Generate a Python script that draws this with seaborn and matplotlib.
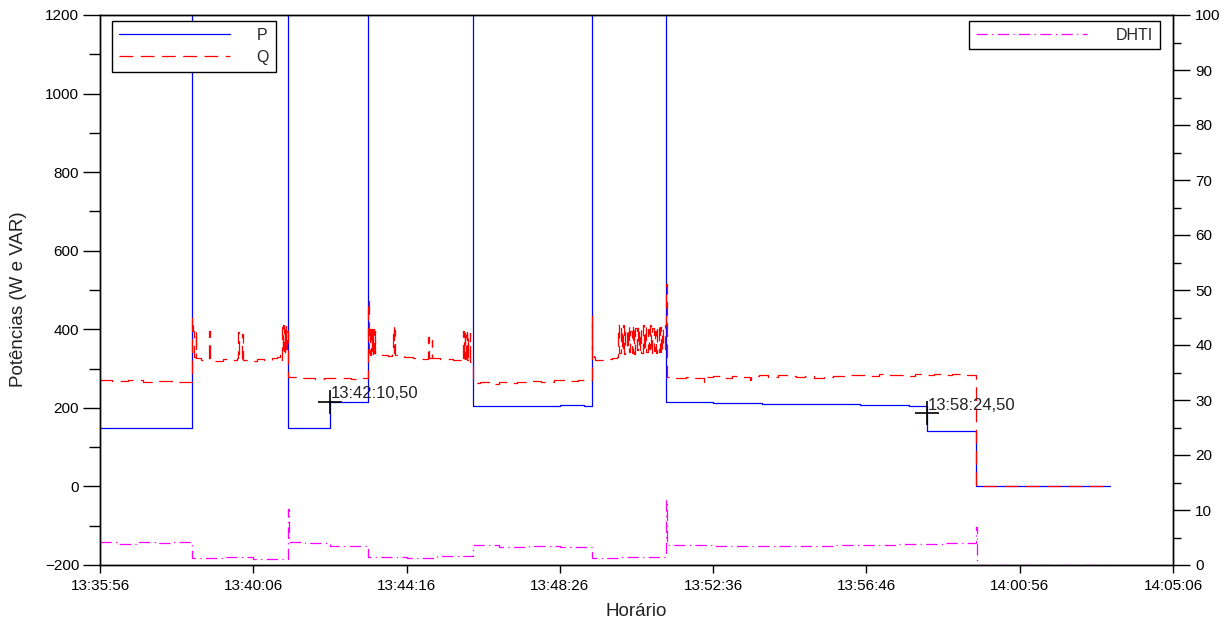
import matplotlib
matplotlib.use("Agg")
import matplotlib.pyplot as plt
import seaborn as sns
import pandas as pd
from matplotlib.ticker import MultipleLocator

# ---------------- data (seconds from 13:35:56) ----------------
tick_seconds = [0, 250, 500, 750, 1000, 1250, 1500, 1750]
tick_labels = ["13:35:56", "13:40:06", "13:44:16", "13:48:26",
               "13:52:36", "13:56:46", "14:00:56", "14:05:06"]

p_time = [0, 150, 306.6, 374.5, 437, 608, 620, 650, 700, 750, 790, 802,
          923, 960, 1000, 1040, 1080, 1120, 1160, 1200, 1240, 1280, 1320,
          1348.5, 1400, 1429, 1647]
p_value = [148, 1500, 148, 214, 1500, 204, 206, 205, 206, 207, 205, 1500,
           216, 214, 213, 212, 211, 210, 210, 209, 208, 207, 206,
           140, 141, 0, 0]

q_time = [0, 20, 45, 70, 95, 120, 140,
          150, 151, 153, 156, 157, 165, 175, 177, 178, 179, 188, 200, 212, 224,
          225, 226, 231, 232, 233, 245, 256, 268, 280, 289, 294, 296,
          297, 298, 299, 300, 301, 302, 303, 304, 305, 306,
          306.6, 320, 335, 350, 365, 380, 395, 410, 425,
          437, 438, 439, 440, 441, 442, 443, 444, 445, 446, 447, 448, 449,
          460, 470, 477, 478, 479, 480, 481, 495, 510, 525, 535, 536, 541, 542,
          555, 575, 588,
          592, 593, 594, 595, 596, 597, 598, 599, 600, 601, 603, 604, 606,
          608, 620, 635, 650, 665, 680, 700, 720, 740, 760, 780, 795,
          802, 803, 805, 808, 815, 825, 835, 843,
          845, 847, 849, 851, 853, 855, 857, 859, 861, 863, 865, 867, 869,
          871, 873, 875, 877, 879, 881, 883, 885, 887, 889, 891, 893, 895,
          897, 899, 901, 903, 905, 907, 909, 911, 913, 915, 917, 919, 921,
          923, 924, 940, 955, 970, 985, 986, 1000, 1015, 1030, 1045, 1060,
          1061, 1075, 1090, 1105, 1120, 1135, 1150, 1165, 1180, 1195, 1210,
          1225, 1240, 1255, 1270, 1285, 1300, 1315, 1330, 1345, 1360, 1375,
          1390, 1405, 1420, 1429, 1647]
q_value = [270, 268, 270, 267, 269, 266, 265,
           430, 395, 330, 398, 328, 322, 325, 385, 395, 328, 320, 324, 322, 326,
           392, 324, 325, 388, 323, 320, 324, 322, 326, 330, 338, 322,
           405, 340, 410, 345, 400, 338, 408, 350, 395, 342,
           278, 275, 277, 273, 276, 275, 277, 274, 276,
           475, 405, 340, 410, 335, 400, 345, 408, 338, 402, 340, 395, 336,
           334, 332, 336, 405, 340, 398, 334, 330, 328, 325, 380, 328, 372, 326,
           324, 321, 318,
           395, 320, 390, 325, 385, 318, 392, 322, 380, 320, 390, 318, 320,
           263, 266, 262, 265, 263, 266, 268, 267, 270, 269, 271, 272,
           435, 345, 330, 322, 323, 325, 327, 330,
           410, 340, 405, 345, 412, 338, 400, 350, 408, 342, 395, 340, 411,
           336, 403, 348, 409, 344, 398, 339, 412, 346, 406, 341, 401, 350,
           410, 337, 404, 345, 396, 340, 412, 343, 407, 338, 402, 349, 410,
           515, 278, 276, 279, 277, 265, 278, 280, 276, 282, 279, 270,
           281, 283, 278, 284, 280, 279, 281, 275, 279, 282, 280,
           283, 284, 281, 285, 283, 284, 282, 286, 284, 285, 283,
           286, 284, 283, 0, 0]

dhti_time = [0, 30, 60, 90, 120, 150, 200, 250, 306.6, 308, 335, 375, 437,
             500, 550, 608, 650, 700, 750, 802, 850, 923, 925, 1000, 1100,
             1200, 1300, 1380, 1429, 1430, 1647]
dhti_value = [4.1, 3.9, 4.2, 4.0, 4.1, 1.2, 1.4, 1.1, 10.1, 4.2, 4.0, 3.5, 1.5,
              1.3, 1.6, 3.6, 3.3, 3.5, 3.2, 1.3, 1.5, 11.8, 3.6, 3.5, 3.4,
              3.6, 3.8, 4.0, 7.0, 0.0, 0.0]

tip_time = [374.5, 1348.5]
tip_value = [215, 186]
tip_label = ["13:42:10,50", "13:58:24,50"]

# ---------------- style ----------------
sns.set_style("ticks")
plt.rcParams['font.family'] = ['Liberation Sans', 'DejaVu Sans']

W, H = 1226, 619
fig = plt.figure(figsize=(W / 100, H / 100), dpi=100)
ax = fig.add_axes([100 / W, 54 / H, 1073 / W, 550 / H])
ax2 = ax.twinx()

dfp = pd.DataFrame({"t": p_time, "v": p_value})
dfq = pd.DataFrame({"t": q_time, "v": q_value})
dfd = pd.DataFrame({"t": dhti_time, "v": dhti_value})

sns.lineplot(data=dfp, x="t", y="v", ax=ax, color="#0000ff", linewidth=0.9,
             drawstyle="steps-post", sort=False, estimator=None)
lp = ax.lines[-1]
sns.lineplot(data=dfq, x="t", y="v", ax=ax, color="#ff0000", linewidth=0.9,
             drawstyle="steps-post", sort=False, estimator=None)
lq = ax.lines[-1]
lq.set_dashes((11, 6))
sns.lineplot(data=dfd, x="t", y="v", ax=ax2, color="#ff00ff", linewidth=0.9,
             drawstyle="steps-post", sort=False, estimator=None)
ld = ax2.lines[-1]
ld.set_dashes((9, 3.5, 1, 3.5))

# datatips
ax.plot(tip_time, tip_value, linestyle="none", marker="+", markersize=17,
        markeredgewidth=1.2, color="black", zorder=5)
for t, v, s in zip(tip_time, tip_value, tip_label):
    ax.annotate(s, (t, v), xytext=(1.0, 6), textcoords="offset points",
                fontsize=12, ha="left", va="center", color="#222222")

# axes
ax.set_xlim(0, 1750)
ax.set_ylim(-200, 1200)
ax2.set_ylim(0, 100)
ax.set_xticks(tick_seconds)
ax.set_xticklabels(tick_labels)
ax.yaxis.set_major_locator(MultipleLocator(200))
ax.yaxis.set_minor_locator(MultipleLocator(100))
ax2.yaxis.set_major_locator(MultipleLocator(10))
ax2.yaxis.set_minor_locator(MultipleLocator(5))

ax.tick_params(axis="y", which="major", direction="out", length=12, width=1,
               labelsize=11, pad=3, colors="black")
ax.tick_params(axis="y", which="minor", direction="out", length=8, width=1,
               colors="black")
ax.tick_params(axis="x", which="major", direction="out", length=6, width=1,
               labelsize=11, pad=4, colors="black")
ax2.tick_params(axis="y", which="major", direction="out", length=12, width=1,
                labelsize=11, pad=4, colors="black")
ax2.tick_params(axis="y", which="minor", direction="out", length=6, width=1,
                colors="black")

for a in (ax, ax2):
    for sp in a.spines.values():
        sp.set_visible(True)
        sp.set_color("black")
        sp.set_linewidth(1.0)

ax.set_xlabel("Horário", fontsize=13.5, labelpad=7, color="#222222")
ax.set_ylabel("Potências (W e VAR)", fontsize=13.5, color="#222222")
ax.yaxis.set_label_coords(-0.068, 0.4836)
ax2.set_ylabel("")

# legends
leg1 = ax.legend(handles=[lp, lq], labels=["P", "Q"], loc="upper left",
                 bbox_to_anchor=(0.011, 0.989), borderaxespad=0,
                 fancybox=False, framealpha=1, edgecolor="black", fontsize=11.5,
                 handlelength=7.0, handletextpad=1.65, labelspacing=0.45,
                 borderpad=0.42)
leg1.get_frame().set_linewidth(1.0)
leg2 = ax2.legend(handles=[ld], labels=["DHTI"], loc="upper right",
                  bbox_to_anchor=(0.988, 0.989), borderaxespad=0,
                  fancybox=False, framealpha=1, edgecolor="black", fontsize=11.5,
                  handlelength=7.0, handletextpad=1.8, borderpad=0.42)
leg2.get_frame().set_linewidth(1.0)

fig.savefig("out.png", dpi=100)
